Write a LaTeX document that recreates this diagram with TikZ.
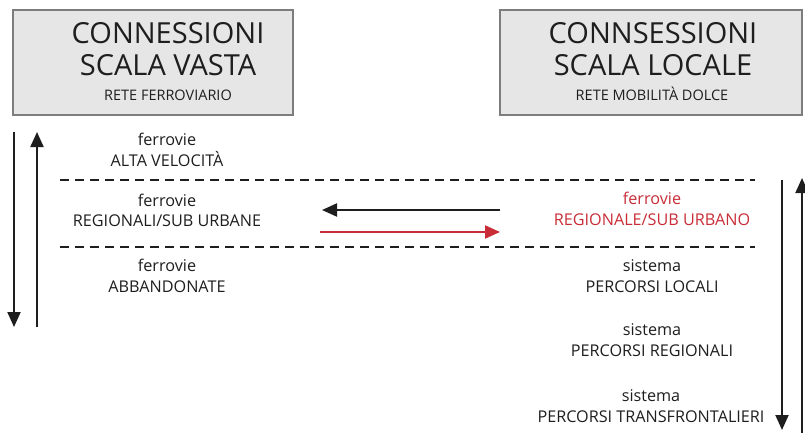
\documentclass[tikz,border=0pt]{standalone}
\usepackage{fontspec}
\setmainfont{Open Sans}
\usepackage{xcolor}
\usetikzlibrary{arrows.meta,positioning}
\definecolor{boxgray}{RGB}{230,230,230}
\definecolor{edgegray}{RGB}{125,125,125}
\definecolor{inkgray}{RGB}{30,30,30}
\definecolor{railred}{RGB}{200,45,55}

\begin{document}
\begin{tikzpicture}[x=1pt,y=-1pt,>={Triangle[length=15pt,width=13pt]},
  titlebox/.style={draw=edgegray,line width=1.3pt,fill=boxgray,inner sep=0pt},
  bigtxt/.style={font=\fontsize{29}{32}\selectfont,align=center,inner sep=0pt,text=inkgray},
  subtxt/.style={font=\fontsize{14.5}{16}\selectfont,anchor=base,inner sep=0pt,text=inkgray},
  lbl/.style={font=\fontsize{16.2}{20.5}\selectfont,align=center,inner sep=0pt,text=inkgray},
  sepline/.style={line width=2.5pt,dash pattern=on 9pt off 6pt,inkgray},
  flow/.style={line width=2pt,inkgray,->}]
\useasboundingbox (0,0) rectangle (805,433);

% title boxes
\node[titlebox,minimum width=280pt,minimum height=105pt] (vasta) at (153,62.5) {};
\node[titlebox,minimum width=302pt,minimum height=105pt] (locale) at (651,62.5) {};
\node[bigtxt] (vastatitle) at (168,49) {CONNESSIONI\\SCALA VASTA};
\node[subtxt] (vastasub) at (168,101) {RETE FERROVIARIO};
\node[bigtxt] (localetitle) at (653,49) {CONNSESSIONI\\SCALA LOCALE};
\node[subtxt] (localesub) at (652,101) {RETE MOBILITÀ DOLCE};

% left column
\node[lbl] (altavel) at (167,150) {ferrovie\\ALTA VELOCITÀ};
\node[lbl] (regurb) at (167,210.5) {ferrovie\\REGIONALI/SUB URBANE};
\node[lbl] (abband) at (167,276) {ferrovie\\ABBANDONATE};

% right column
\node[lbl,text=railred] (regloc) at (652,209) {ferrovie\\REGIONALE/SUB URBANO};
\node[lbl] (perloc) at (652,276) {sistema\\PERCORSI LOCALI};
\node[lbl] (perreg) at (652,340) {sistema\\PERCORSI REGIONALI};
\node[lbl] (pertrans) at (651,406) {sistema\\PERCORSI TRANSFRONTALIERI};

% separators
\coordinate (sepAw) at (60,180);
\coordinate (sepAe) at (755,180);
\coordinate (sepBw) at (60,247);
\coordinate (sepBe) at (755,247);
\draw[sepline] (sepAw) -- (sepAe);
\draw[sepline] (sepBw) -- (sepBe);

% exchange arrows
\coordinate (backE) at (500,210);
\coordinate (backW) at (322,210);
\coordinate (goW) at (320,232);
\coordinate (goE) at (500,232);
\draw[flow] (backE) -- (backW);
\draw[flow,railred] (goW) -- (goE);

% vertical arrows
\coordinate (ldownT) at (14,132);
\coordinate (ldownB) at (14,327);
\coordinate (lupB) at (37,327);
\coordinate (lupT) at (37,132);
\draw[flow] (ldownT) -- (ldownB);
\draw[flow] (lupB) -- (lupT);

\coordinate (rdownT) at (782,180);
\coordinate (rdownB) at (782,430);
\coordinate (rupB) at (802,433);
\coordinate (rupT) at (802,178);
\draw[flow] (rdownT) -- (rdownB);
\draw[flow] (rupB) -- (rupT);
\end{tikzpicture}
\end{document}
